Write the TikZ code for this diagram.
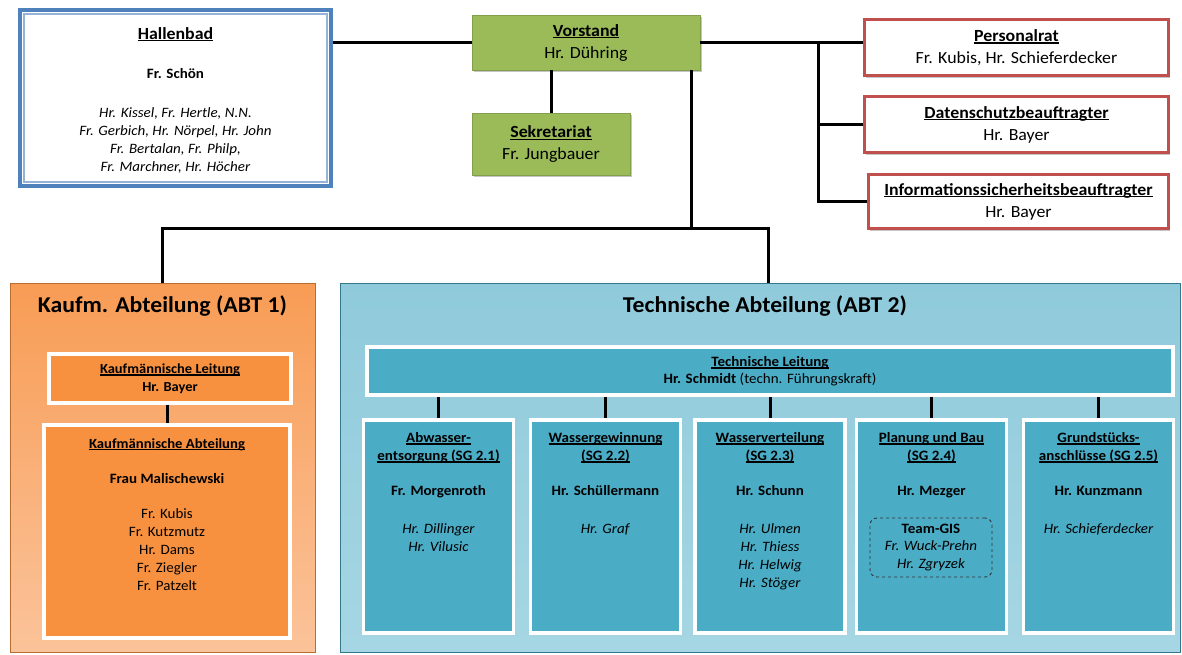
\documentclass[tikz,border=0pt]{standalone}
\usepackage{fontspec}
\setmainfont{Carlito}[FakeStretch=1.05]
\usetikzlibrary{shadows}

\definecolor{vgreen}{HTML}{9BBB59}
\definecolor{prred}{HTML}{C0504D}
\definecolor{hbblue}{HTML}{4F81BD}
\definecolor{hbinner}{HTML}{95B3D7}
\definecolor{kauftop}{HTML}{F89C55}
\definecolor{kaufbot}{HTML}{FBC39A}
\definecolor{kaufin}{HTML}{F7913F}
\definecolor{techtop}{HTML}{8FCADB}
\definecolor{techbot}{HTML}{A6D6E3}
\definecolor{techin}{HTML}{4BACC6}

\newcommand{\fs}[2]{\fontsize{#1}{#2}\selectfont}
\newsavebox{\ulsave}
\newcommand{\ulbox}[1]{\sbox{\ulsave}{#1}\rlap{\rule[-2.3pt]{\wd\ulsave}{1.2pt}}\usebox{\ulsave}}

\tikzset{
  conn/.style={line width=3pt},
  dropshade/.style={drop shadow={shadow xshift=1.5pt, shadow yshift=-2pt, fill=black!45, opacity=.5}},
  hbbox/.style={draw=hbblue, line width=4pt, fill=white},
  hbline/.style={draw=hbinner, line width=1.2pt},
  greenbox/.style={fill=vgreen, draw=vgreen!85!black, line width=.6pt, dropshade, align=center, font=\fs{17}{22}},
  redbox/.style={draw=prred, line width=3pt, fill=white, dropshade, align=center, font=\fs{17}{22},
    minimum width=304, minimum height=56},
  kaufbox/.style={top color=kauftop, bottom color=kaufbot, draw=kaufin!75!black, line width=.8pt,
    minimum width=305, minimum height=369},
  techbox/.style={top color=techtop, bottom color=techbot, draw=techin!70!black, line width=.8pt,
    minimum width=840, minimum height=369},
  kaufinner/.style={fill=kaufin, draw=white, line width=3.5pt, dropshade, align=center},
  techinner/.style={fill=techin, draw=white, line width=3.5pt, dropshade, align=center},
  sgbox/.style={techinner, minimum width=150, minimum height=213},
  titletxt/.style={font=\fs{22.6}{26}\bfseries, inner sep=0},
  subtxt/.style={anchor=north, inner sep=0, align=center, font=\fs{14.3}{18}},
  gisbox/.style={draw=black!80, dashed, rounded corners=7pt, line width=.9pt, align=center,
    font=\fs{14.3}{17.5}, minimum width=122, minimum height=59}
}

\begin{document}
\begin{tikzpicture}[x=1pt, y=-1pt]
\useasboundingbox (0,0) rectangle (1182,654);

% Leitungsebene
\node[hbbox, minimum width=311, minimum height=176] (hallenbad) at (175.5,98) {};
\draw[hbline] ([shift={(6pt,-6pt)}]hallenbad.north west) rectangle ([shift={(-6pt,6pt)}]hallenbad.south east);
\node[subtxt] (hallenbadtxt) at (175.5,27) {{\fs{17}{18}\textbf{\ulbox{Hallenbad}}}\\[21pt]
  \textbf{Fr. Schön}\\[21pt]
  \textit{Hr. Kissel, Fr. Hertle, N.N.}\\\textit{Fr. Gerbich, Hr. Nörpel, Hr. John}\\
  \textit{Fr. Bertalan, Fr. Philp,}\\\textit{Fr. Marchner, Hr. Höcher}};

\node[greenbox, minimum width=228, minimum height=55] (vorstand) at (586,42.5)
  {\textbf{\ulbox{Vorstand}}\\Hr. Dühring};
\node[greenbox, minimum width=158, minimum height=62] (sekretariat) at (551,144)
  {\textbf{\ulbox{Sekretariat}}\\Fr. Jungbauer};

\node[redbox] (personalrat) at (1016.5,47.5) {\textbf{\ulbox{Personalrat}}\\Fr. Kubis, Hr. Schieferdecker};
\node[redbox] (datenschutz) at (1016.5,124.5) {\textbf{\ulbox{Datenschutzbeauftragter}}\\Hr. Bayer};
\node[redbox, minimum width=300, minimum height=54] (infosec) at (1018.5,201.5) {\textbf{\ulbox{Informationssicherheitsbeauftragter}}\\Hr. Bayer};

% Verbindungen oben
\coordinate (split) at (818,0);
\coordinate (bus) at (691,228);
\draw[conn] (hallenbad.east |- vorstand.west) -- (vorstand.west);
\draw[conn] (vorstand.east) -- (personalrat.west |- vorstand.east);
\draw[conn] (split |- vorstand.east) |- (infosec.west);
\draw[conn] (split |- datenschutz.west) -- (datenschutz.west);
\draw[conn] (vorstand.south -| sekretariat.north) -- (sekretariat.north);

% Abteilungen
\node[kaufbox] (kaufm) at (162.5,467.5) {};
\node[techbox] (technik) at (760,467.5) {};
\node[titletxt] (kaufmtitle) at (162.5,306) {Kaufm. Abteilung (ABT 1)};
\node[titletxt] (techtitle) at (765,306) {Technische Abteilung (ABT 2)};

\draw[conn] (vorstand.south -| bus) -- (bus);
\draw[conn] (kaufm.north) |- (bus) -| ([xshift=8pt]technik.north);

% Kaufm. Abteilung
\node[kaufinner, minimum width=242, minimum height=49, font=\fs{13.8}{18}] (kleitung) at (170,378.5)
  {\textbf{\ulbox{Kaufmännische Leitung}}\\\textbf{Hr. Bayer}};
\node[kaufinner, minimum width=246, minimum height=213] (kabt) at (167,531.5) {};
\node[subtxt] (kabttxt) at (167,438) {{\fs{14}{18}\textbf{\ulbox{Kaufmännische Abteilung}}}\\[17pt]
  \textbf{Frau Malischewski}\\[17pt]
  Fr. Kubis\\Fr. Kutzmutz\\Hr. Dams\\Fr. Ziegler\\Fr. Patzelt};
\draw[conn] (kabt.north |- kleitung.south) -- (kabt.north);

% Technische Abteilung
\node[techinner, minimum width=806, minimum height=48, font=\fs{14.3}{17}] (tleitung) at (770,371)
  {\textbf{\ulbox{Technische Leitung}}\\\textbf{Hr. Schmidt} (techn. Führungskraft)};

\node[sgbox] (sg1) at (438.5,526.5) {};
\node[sgbox] (sg2) at (605.5,526.5) {};
\node[sgbox] (sg3) at (770,526.5) {};
\node[sgbox] (sg4) at (931.5,526.5) {};
\node[sgbox] (sg5) at (1098.5,526.5) {};

\foreach \i in {1,...,5}
  \draw[conn] (sg\i.north |- tleitung.south) -- (sg\i.north);

\node[subtxt] (sg1txt) at (sg1.north |- 0,432) {\textbf{\ulbox{Abwasser-}}\\\textbf{\ulbox{entsorgung (SG 2.1)}}\\[17pt]
  \textbf{Fr. Morgenroth}\\[20pt]\textit{Hr. Dillinger}\\\textit{Hr. Vilusic}};
\node[subtxt] (sg2txt) at (sg2.north |- 0,432) {\textbf{\ulbox{Wassergewinnung}}\\\textbf{\ulbox{(SG 2.2)}}\\[17pt]
  \textbf{Hr. Schüllermann}\\[20pt]\textit{Hr. Graf}};
\node[subtxt] (sg3txt) at (sg3.north |- 0,432) {\textbf{\ulbox{Wasserverteilung}}\\\textbf{\ulbox{(SG 2.3)}}\\[17pt]
  \textbf{Hr. Schunn}\\[20pt]\textit{Hr. Ulmen}\\\textit{Hr. Thiess}\\\textit{Hr. Helwig}\\\textit{Hr. Stöger}};
\node[subtxt] (sg4txt) at (sg4.north |- 0,432) {\textbf{\ulbox{Planung und Bau}}\\\textbf{\ulbox{(SG 2.4)}}\\[17pt]
  \textbf{Hr. Mezger}};
\node[subtxt] (sg5txt) at (sg5.north |- 0,432) {\textbf{\ulbox{Grundstücks-}}\\\textbf{\ulbox{anschlüsse (SG 2.5)}}\\[17pt]
  \textbf{Hr. Kunzmann}\\[20pt]\textit{Hr. Schieferdecker}};

\node[gisbox] (teamgis) at (931,547.5) {\textbf{Team-GIS}\\\textit{Fr. Wuck-Prehn}\\\textit{Hr. Zgryzek}};
\end{tikzpicture}
\end{document}
